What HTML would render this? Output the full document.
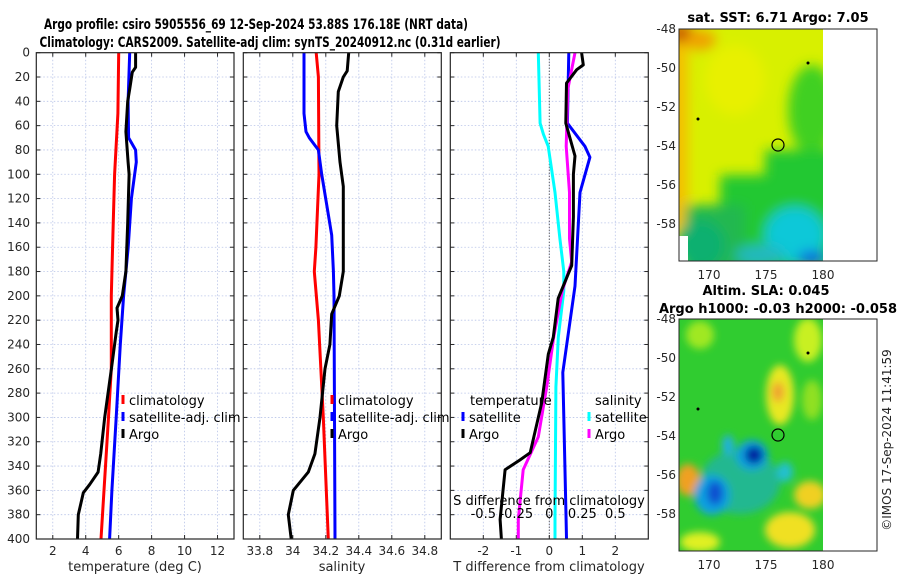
<!DOCTYPE html>
<html><head><meta charset="utf-8">
<style>
body{margin:0;background:#fff;}
svg{display:block;font-family:"DejaVu Sans","Liberation Sans",sans-serif;}
.tk{font-size:12px;fill:#262626;}
.ttl{font-size:14px;font-weight:bold;fill:#000;}
.mttl{font-size:13px;font-weight:bold;fill:#000;}
.lg{font-size:13px;fill:#000;}
</style></head>
<body>
<svg id="chart" width="900" height="580" viewBox="0 0 900 580" xmlns="http://www.w3.org/2000/svg">
<defs>
<filter id="bl" x="-50%" y="-50%" width="200%" height="200%"><feGaussianBlur stdDeviation="6"/></filter>
<filter id="bl2" x="-50%" y="-50%" width="200%" height="200%"><feGaussianBlur stdDeviation="4"/></filter>
<clipPath id="c1"><rect x="679" y="29" width="144" height="232"/></clipPath>
<clipPath id="c2"><rect x="679" y="319" width="144" height="232"/></clipPath>
</defs>
<text class="ttl" x="256" y="29" text-anchor="middle" textLength="424" lengthAdjust="spacingAndGlyphs">Argo profile: csiro 5905556_69 12-Sep-2024 53.88S 176.18E (NRT data)</text>
<text class="ttl" x="270" y="47" text-anchor="middle" textLength="461" lengthAdjust="spacingAndGlyphs">Climatology: CARS2009. Satellite-adj clim: synTS_20240912.nc (0.31d earlier)</text>
<g id="panels"></g>

<!-- Map 1 -->
<g>
<text class="mttl" x="778" y="22" text-anchor="middle">sat. SST: 6.71 Argo: 7.05</text>
<g clip-path="url(#c1)">
<rect x="679" y="29" width="144" height="232" fill="#d8f000"/>
<g filter="url(#bl)">
<rect x="660" y="20" width="28" height="210" fill="#f4c000"/>
<ellipse cx="682" cy="34" rx="12" ry="9" fill="#c04000"/>
<ellipse cx="700" cy="40" rx="16" ry="10" fill="#f0a000"/>
<ellipse cx="735" cy="80" rx="30" ry="35" fill="#e8f000"/>
<ellipse cx="812" cy="110" rx="24" ry="45" fill="#40d020"/>
<rect x="765" y="150" width="80" height="120" fill="#20c830"/>
<rect x="720" y="175" width="80" height="100" fill="#20c830"/>
<rect x="685" y="205" width="60" height="70" fill="#20b850"/>
<ellipse cx="700" cy="245" rx="25" ry="25" fill="#10b070"/>
<ellipse cx="795" cy="235" rx="30" ry="28" fill="#10c8d8"/>
<ellipse cx="760" cy="255" rx="25" ry="10" fill="#20b8c0"/>
<ellipse cx="812" cy="258" rx="14" ry="7" fill="#1060e0"/>
</g>
<rect x="679" y="236" width="9" height="25" fill="#fff"/>
</g>
<rect x="679" y="29" width="198" height="232" fill="none" stroke="#262626" stroke-width="1"/>
<circle cx="778" cy="145" r="6" fill="none" stroke="#000" stroke-width="1.2"/>
<circle cx="808" cy="63" r="1.5" fill="#000"/><circle cx="698" cy="119" r="1.5" fill="#000"/>
<g class="tk" text-anchor="end">
<text x="676" y="33">-48</text><text x="676" y="72">-50</text><text x="676" y="111">-52</text><text x="676" y="150">-54</text><text x="676" y="189">-56</text><text x="676" y="228">-58</text>
</g>
<g class="tk" text-anchor="middle"><text x="709" y="279">170</text><text x="766" y="279">175</text><text x="823" y="279">180</text></g>
</g>

<!-- Map 2 -->
<g>
<text class="mttl" x="766" y="295" text-anchor="middle">Altim. SLA: 0.045</text>
<text class="mttl" x="778" y="313" text-anchor="middle">Argo h1000: -0.03 h2000: -0.058</text>
<g clip-path="url(#c2)">
<rect x="679" y="319" width="144" height="232" fill="#30cc30"/>
<g filter="url(#bl2)">
<ellipse cx="700" cy="335" rx="14" ry="14" fill="#a0e820"/>
<ellipse cx="780" cy="395" rx="14" ry="30" fill="#e8e820"/>
<ellipse cx="778" cy="392" rx="6" ry="10" fill="#f0a030"/>
<ellipse cx="808" cy="340" rx="14" ry="22" fill="#c8f020"/>
<ellipse cx="812" cy="400" rx="10" ry="20" fill="#90e020"/>
<ellipse cx="688" cy="480" rx="12" ry="16" fill="#f0a020"/>
<ellipse cx="810" cy="495" rx="16" ry="14" fill="#f0d020"/>
<ellipse cx="790" cy="530" rx="25" ry="18" fill="#f0e020"/>
<ellipse cx="700" cy="542" rx="20" ry="10" fill="#e0f020"/>
<ellipse cx="740" cy="482" rx="40" ry="32" fill="#20b890"/>
<ellipse cx="752" cy="455" rx="16" ry="15" fill="#10a0e0"/>
<ellipse cx="754" cy="455" rx="9" ry="9" fill="#0020a0"/>
<ellipse cx="712" cy="495" rx="18" ry="20" fill="#10a0e0"/>
<ellipse cx="715" cy="493" rx="8" ry="12" fill="#1050d0"/>
<ellipse cx="728" cy="445" rx="6" ry="10" fill="#20b0e0"/>
<ellipse cx="785" cy="472" rx="8" ry="10" fill="#20c0d0"/>
</g>
</g>
<rect x="679" y="319" width="198" height="232" fill="none" stroke="#262626" stroke-width="1"/>
<circle cx="778" cy="435" r="6" fill="none" stroke="#000" stroke-width="1.2"/>
<circle cx="808" cy="353" r="1.5" fill="#000"/><circle cx="698" cy="409" r="1.5" fill="#000"/>
<g class="tk" text-anchor="end">
<text x="676" y="323">-48</text><text x="676" y="362">-50</text><text x="676" y="401">-52</text><text x="676" y="440">-54</text><text x="676" y="479">-56</text><text x="676" y="518">-58</text>
</g>
<g class="tk" text-anchor="middle"><text x="709" y="569">170</text><text x="766" y="569">175</text><text x="823" y="569">180</text></g>
</g>
<text class="tk" transform="translate(891,440) rotate(-90)" text-anchor="middle">©IMOS 17-Sep-2024 11:41:59</text>
</svg>
<script>
// ---- data ----
const depthTicks=[0,20,40,60,80,100,120,140,160,180,200,220,240,260,280,300,320,340,360,380,400];
const tClimD=[0,50,100,150,200,260,300,340,400];
const tClimV=[6.0,5.95,5.75,5.65,5.55,5.55,5.38,5.2,4.93];
const tSatD=[0,40,70,80,90,120,160,200,240,300,360,400];
const tSatV=[6.67,6.57,6.6,7.03,7.07,6.77,6.58,6.3,6.1,5.85,5.59,5.45];
const tArgoD=[0,12,16,30,40,65,90,100,140,180,200,210,220,230,260,300,330,345,355,362,380,400];
const tArgoV=[7.03,7.03,6.83,6.67,6.55,6.44,6.57,6.63,6.55,6.44,6.22,5.9,5.96,5.85,5.56,5.15,4.91,4.75,4.25,3.85,3.55,3.5];
const sClimD=[0,20,100,160,180,220,300,400];
const sClimV=[34.142,34.155,34.159,34.14,34.13,34.155,34.185,34.215];
const sSatD=[0,50,65,70,80,100,150,180,200,400];
const sSatV=[34.068,34.068,34.08,34.1,34.155,34.175,34.236,34.246,34.25,34.256];
const sArgoD=[0,15,20,32,60,90,110,140,180,200,215,240,260,300,330,345,360,380,400];
const sArgoV=[34.339,34.33,34.306,34.276,34.266,34.286,34.306,34.306,34.306,34.282,34.236,34.225,34.195,34.165,34.134,34.094,34.003,33.973,33.99];
const dTSatD=[0,58,77,86,115,192,263,384,400];
const dTSatV=[0.59,0.55,1.08,1.23,0.93,0.78,0.41,0.51,0.52];
const dTArgoD=[0,10,14,25,58,85,100,135,175,202,234,248,288,329,335,343,384,400];
const dTArgoV=[0.98,1.03,0.83,0.52,0.5,0.78,0.73,0.73,0.68,0.27,0.12,-0.03,-0.23,-0.58,-0.89,-1.34,-1.49,-1.45];
const dSSatD=[0,58,67,77,115,153,180,196,234,275,384,400];
const dSSatV=[-0.083,-0.07,-0.045,-0.008,0.043,0.08,0.11,0.11,0.068,0.05,0.043,0.043];
const dSArgoD=[0,30,77,115,153,172,196,234,275,316,343,384,400];
const dSArgoV=[0.195,0.14,0.128,0.153,0.153,0.17,0.098,0.033,-0.02,-0.083,-0.198,-0.235,-0.235];
const tTicks=[2,4,6,8,10,12];
const sTicks=[33.8,34,34.2,34.4,34.6,34.8];
const sTickLabels=["33.8","34","34.2","34.4","34.6","34.8"];
const dTicks=[-2,-1,0,1,2];
const dSTicks=[-0.5,-0.25,0,0.25,0.5];
const dSTickLabels=["-0.5","-0.25","0","0.25","0.5"];

const NS='http://www.w3.org/2000/svg';
const root=document.getElementById('panels');
const Y0=52.7,Y1=539;
const yS=d=>Y0+d*(Y1-Y0)/400;
function el(t,a,p){const e=document.createElementNS(NS,t);for(const k in a)e.setAttribute(k,a[k]);(p||root).appendChild(e);return e;}
function txt(x,y,s,cls,anchor,p){const e=el('text',{x:x,y:y,class:cls,'text-anchor':anchor||'middle'},p);e.textContent=s;return e;}

function panel(name,x0,x1,lo,hi,ticks,labels){
  const g=el('g',{});
  
  
  const xs=v=>x0+(v-lo)*(x1-x0)/(hi-lo);
  ticks.forEach(t=>{const l=el('line',{x1:xs(t),x2:xs(t),y1:Y0,y2:Y1,stroke:'#b8c4e8','stroke-width':0.8,'stroke-dasharray':'1.5,2'},g);
    });
  depthTicks.forEach(d=>{if(d>0&&d<400){const l=el('line',{x1:x0,x2:x1,y1:yS(d),y2:yS(d),stroke:'#b8c4e8','stroke-width':0.8,'stroke-dasharray':'1.5,2'},g);
    }
    el('line',{x1:x0,x2:x0+4,y1:yS(d),y2:yS(d),stroke:'#262626'},g);el('line',{x1:x1,x2:x1-4,y1:yS(d),y2:yS(d),stroke:'#262626'},g);});
  ticks.forEach((t,i)=>{el('line',{x1:xs(t),x2:xs(t),y1:Y0,y2:Y0+4,stroke:'#262626'},g);el('line',{x1:xs(t),x2:xs(t),y1:Y1,y2:Y1-4,stroke:'#262626'},g);
    if(labels){const tl=txt(xs(t),555,labels[i],'tk','middle',g);}});
  return {g,xs,x0,x1};
}
function line(P,D,V,color,name,xs){
  const pts=D.map((d,i)=>xs(V[i]).toFixed(1)+','+yS(d).toFixed(1)).join(' ');
  const l=el('polyline',{points:pts,fill:'none',stroke:color,'stroke-width':3,'stroke-linejoin':'round'},P.g);
  
  
}
function box(P){el('rect',{x:P.x0,y:Y0,width:P.x1-P.x0,height:Y1-Y0,fill:'none',stroke:'#262626','stroke-width':1.2},P.g);}
function legItem(P,x,y,color,label){
  const m=el('line',{x1:x,x2:x,y1:y-10,y2:y-1,stroke:color,'stroke-width':3},P.g);
  
  const t=txt(x+6,y,label,'lg','start',P.g);
}

// Panel 1 temperature
const P1=panel('temperature-panel',36.3,234,1,13,tTicks,tTicks.map(String));
depthTicks.forEach(d=>{const t=txt(30,yS(d)+4,String(d),'tk','end',P1.g);});
line(P1,tClimD,tClimV,'#ff0000','temp-climatology-line',P1.xs);
line(P1,tSatD,tSatV,'#0000ff','temp-satellite-line',P1.xs);
line(P1,tArgoD,tArgoV,'#000000','temp-argo-line',P1.xs);
box(P1);
legItem(P1,123,405,'#ff0000','climatology');
legItem(P1,123,422,'#0000ff','satellite-adj. clim');
legItem(P1,123,439,'#000000','Argo');
{const t=txt(135,571,'temperature (deg C)','tk','middle',P1.g);t.style.fontSize='13px';}

// Panel 2 salinity
const P2=panel('salinity-panel',243.3,441.3,33.7,34.9,sTicks,sTickLabels);
line(P2,sClimD,sClimV,'#ff0000','sal-climatology-line',P2.xs);
line(P2,sSatD,sSatV,'#0000ff','sal-satellite-line',P2.xs);
line(P2,sArgoD,sArgoV,'#000000','sal-argo-line',P2.xs);
box(P2);
legItem(P2,332,405,'#ff0000','climatology');
legItem(P2,332,422,'#0000ff','satellite-adj. clim');
legItem(P2,332,439,'#000000','Argo');
{const t=txt(342,571,'salinity','tk','middle',P2.g);t.style.fontSize='13px';}

// Panel 3 differences
const P3=panel('difference-panel',450.3,648.3,-3,3,dTicks,dTicks.map(String));
const xsS=v=>P3.xs(v*4);
el('line',{x1:P3.xs(0),x2:P3.xs(0),y1:Y0,y2:Y1,stroke:'#333','stroke-width':1,'stroke-dasharray':'1,2'},P3.g);
line(P3,dSSatD,dSSatV,'#00ffff','sal-diff-satellite-line',xsS);
line(P3,dTSatD,dTSatV,'#0000ff','temp-diff-satellite-line',P3.xs);
line(P3,dSArgoD,dSArgoV,'#ff00ff','sal-diff-argo-line',xsS);
line(P3,dTArgoD,dTArgoV,'#000000','temp-diff-argo-line',P3.xs);
box(P3);
txt(470,405,'temperature','lg','start',P3.g);
txt(595,405,'salinity','lg','start',P3.g);
legItem(P3,463,422,'#0000ff','satellite');
legItem(P3,463,439,'#000000','Argo');
legItem(P3,589,422,'#00ffff','satellite');
legItem(P3,589,439,'#ff00ff','Argo');
{const t=txt(549,505,'S difference from climatology','lg','middle',P3.g);}
dSTicks.forEach((v,i)=>{const t=txt(xsS(v),518,dSTickLabels[i],'lg','middle',P3.g);});
{const t=txt(549,571,'T difference from climatology','tk','middle',P3.g);t.style.fontSize='13px';}
</script>
</body></html>
